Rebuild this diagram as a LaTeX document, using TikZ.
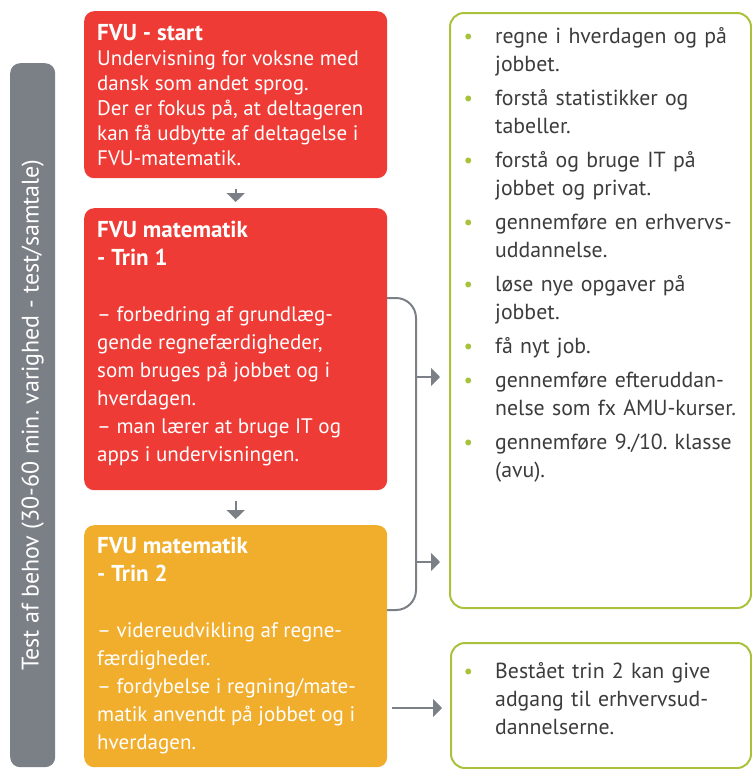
\documentclass[tikz,border=0pt]{standalone}
\usepackage{fontspec}
\setmainfont{PT Sans}
\usepackage{enumitem}
\usetikzlibrary{positioning,calc,arrows.meta}
\frenchspacing

\definecolor{fvured}{HTML}{EE3B36}
\definecolor{fvuorange}{HTML}{F1AD2C}
\definecolor{fvugrey}{HTML}{7B8087}
\definecolor{fvugreen}{HTML}{A8C23C}
\definecolor{fvutext}{HTML}{3C3C3C}

\newcommand{\steptitle}[1]{{\fontsize{23}{28}\selectfont\bfseries #1}}

\tikzset{
	stepbox/.style={rounded corners=10pt, inner sep=0pt, anchor=north west, minimum width=303pt},
	boxtext/.style={anchor=north west, inner sep=0pt, text=white, align=left, font=\fontsize{21}{28}\selectfont},
	goalbox/.style={draw=fvugreen, line width=2pt, rounded corners=14pt, inner sep=0pt, anchor=north west},
	goaltext/.style={anchor=north west, inner sep=0pt, text=fvutext, text width=285pt, font=\fontsize{21.8}{28}\selectfont},
	flow/.style={-{Triangle[length=9pt,width=18pt]}, fvugrey, line width=2pt},
	brace/.style={fvugrey, line width=2pt, rounded corners=20pt},
}
\setlist[itemize]{label={\textcolor{fvugreen}{\fontsize{21}{21}\selectfont\textbullet}}, leftmargin=30pt, labelsep=22pt, itemsep=6pt, parsep=0pt, topsep=0pt, partopsep=0pt}

\begin{document}
\begin{tikzpicture}[x=1pt, y=-1pt]
	
	\useasboundingbox (0,0) rectangle (752,769);
	
	% grey side bar
	\node[fill=fvugrey, rounded corners=10pt, inner sep=0pt, anchor=north west,
	minimum width=45pt, minimum height=704pt] (behov) at (10,63) {};
	\node[rotate=90, text=white, font=\fontsize{24}{26}\selectfont] (behov-txt) at (behov.center)
	{Test af behov (30-60 min. varighed - test/samtale)};
	
	% the three steps
	\node[stepbox, fill=fvured, minimum height=167pt] (start) at (84,11) {};
	\node[boxtext, font=\fontsize{21}{25}\selectfont] (start-txt) at ($(start.north west)+(13,13)$)
	{\steptitle{FVU - start}\\
		Undervisning for voksne med\\
		dansk som andet sprog.\\
		Der er fokus på, at deltageren\\
		kan få udbytte af deltagelse i\\
		FVU-matematik.};
	
	\node[stepbox, fill=fvured, minimum height=282pt] (trin1) at (84,208) {};
	\node[boxtext] (trin1-txt) at ($(trin1.north west)+(13,13)$)
	{\steptitle{FVU matematik}\\
		\steptitle{- Trin 1}\\[28pt]
		– forbedring af grundlæg-\\
		gende regnefærdigheder,\\
		som bruges på jobbet og i\\
		hverdagen.\\
		– man lærer at bruge IT og\\
		apps i undervisningen.};
	
	\node[stepbox, fill=fvuorange, minimum height=242pt] (trin2) at (84,525) {};
	\node[boxtext] (trin2-txt) at ($(trin2.north west)+(13,12)$)
	{\steptitle{FVU matematik}\\
		\steptitle{- Trin 2}\\[28pt]
		– videreudvikling af regne-\\
		færdigheder.\\
		– fordybelse i regning/mate-\\
		matik anvendt på jobbet og i\\
		hverdagen.};
	
	% arrows between the steps
	\draw[flow, shorten <=11pt, shorten >=6pt] (start) -- (trin1);
	\draw[flow, shorten <=11pt, shorten >=6pt] (trin1) -- (trin2);
	
	% outcome boxes
	\node[goalbox, minimum width=301pt, minimum height=595pt] (maal) at (449,12) {};
	\node[goaltext] (maal-txt) at (465,15)
	{\begin{itemize}
			\item regne i hverdagen og på\\jobbet.
			\item forstå statistikker og\\tabeller.
			\item forstå og bruge IT på\\jobbet og privat.
			\item gennemføre en erhvervs-\\uddannelse.
			\item løse nye opgaver på\\jobbet.
			\item få nyt job.
			\item gennemføre efteruddan-\\nelse som fx AMU-kurser.
			\item gennemføre 9./10. klasse\\(avu).
	\end{itemize}};
	
	\node[goalbox, minimum width=300pt, minimum height=125pt] (adgang) at (450,642) {};
	\node[goaltext] (adgang-txt) at (465,650)
	{\begin{itemize}[itemsep=0pt]
			\item Bestået trin 2 kan give\\adgang til erhvervsud-\\dannelserne.
	\end{itemize}};
	
	% bracket round trin 1 and trin 2
	\coordinate (brace-top) at (387,298);
	\coordinate (brace-bot) at (387,610);
	\coordinate (brace-a) at (416,377);
	\coordinate (brace-b) at (416,562);
	\draw[brace] (brace-top) -- ++(29,0) -- ($(brace-bot)+(29,0)$) -- (brace-bot);
	\draw[flow, shorten >=9pt] (brace-a) -- (maal.west |- brace-a);
	\draw[flow, shorten >=9pt] (brace-b) -- (maal.west |- brace-b);
	
	% trin 2 straight on to the second box
	\coordinate (trin2-out) at (387,708);
	\draw[flow, shorten <=5pt, shorten >=8pt] (trin2-out) -- (adgang.west |- trin2-out);
	
\end{tikzpicture}
\end{document}
